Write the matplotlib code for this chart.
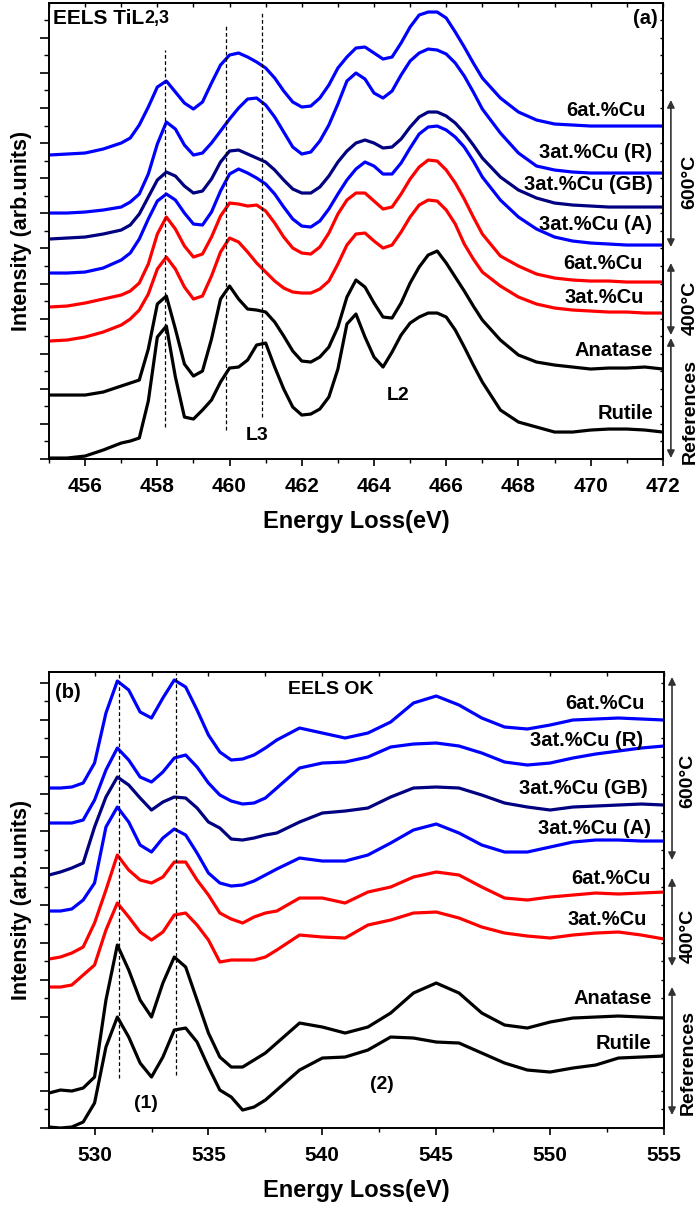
import matplotlib
matplotlib.use('Agg')
import matplotlib.pyplot as plt
from matplotlib.ticker import MultipleLocator, NullFormatter

plt.rcParams['font.family'] = ['Liberation Sans', 'DejaVu Sans']
plt.rcParams['font.weight'] = 'bold'
plt.rcParams['axes.labelweight'] = 'bold'

# ---------------- Ti L2,3 edge (panel a) ----------------
e_ti = [455, 455.5, 456, 456.5, 457,
        457.25, 457.5, 457.75, 458, 458.25, 458.5, 458.75, 459,
        459.25, 459.5, 459.75, 460, 460.25, 460.5, 460.75, 461,
        461.25, 461.5, 461.75, 462, 462.25, 462.5, 462.75, 463,
        463.25, 463.5, 463.75, 464, 464.25, 464.5, 464.75, 465,
        465.25, 465.5, 465.75, 466, 466.25, 466.5, 466.75, 467,
        467.5, 468, 468.5, 469, 469.5, 470, 470.5, 471, 471.5, 472]

ti_6cu_600 = [304, 305, 306, 310, 316,
              321, 334, 352, 372, 378, 367, 356, 350,
              357, 376, 394, 404, 406, 402, 397, 391,
              381, 368, 357, 352, 353, 361, 374, 391,
              402, 411, 412, 406, 400, 402, 416, 432,
              444, 447, 447, 441, 427, 412, 396, 381,
              361, 347, 339, 335, 334, 333, 333, 333, 333, 333]
ti_3cu_r = [246, 246, 247, 249, 252,
            257, 265, 285, 315, 337, 330, 314, 304,
            306, 316, 328, 340, 351, 360, 361, 354,
            342, 327, 312, 305, 307, 318, 334, 355,
            378, 386, 380, 366, 361, 368, 384, 398,
            406, 410, 409, 405, 396, 383, 367, 350,
            326, 306, 293, 289, 287, 286, 286, 286, 286, 286]
ti_3cu_gb = [220, 221, 222, 225, 229,
             234, 245, 262, 279, 287, 283, 273, 266,
             268, 280, 297, 308, 309, 305, 301, 297,
             289, 279, 270, 266, 266, 272, 283, 297,
             308, 316, 319, 316, 311, 312, 320, 332,
             342, 347, 347, 343, 336, 326, 314, 301,
             282, 269, 261, 256, 254, 253, 252, 252, 252, 252]
ti_3cu_a = [186, 186, 187, 191, 199,
            206, 220, 240, 258, 265, 259, 246, 235,
            234, 247, 268, 285, 290, 286, 281, 275,
            265, 252, 240, 233, 232, 238, 250, 265,
            279, 290, 297, 293, 285, 285, 296, 311,
            325, 332, 333, 329, 322, 312, 298, 282,
            259, 242, 230, 222, 218, 216, 215, 214, 214, 214]
ti_6cu_400 = [152, 153, 156, 160, 164,
              168, 176, 195, 225, 242, 230, 213, 202,
              205, 222, 243, 256, 255, 253, 254, 248,
              236, 222, 211, 206, 205, 212, 226, 245,
              259, 266, 266, 258, 250, 252, 265, 280,
              292, 299, 298, 289, 276, 260, 242, 225,
              203, 193, 185, 181, 179, 178, 178, 177, 177, 177]
ti_3cu_400 = [118, 119, 122, 127, 134,
              140, 149, 165, 190, 202, 190, 172, 160,
              163, 183, 207, 221, 217, 207, 196, 187,
              178, 171, 167, 166, 166, 170, 178, 195,
              214, 225, 226, 218, 211, 214, 227, 242,
              254, 259, 258, 249, 235, 215, 200, 187,
              173, 162, 155, 151, 149, 148, 147, 147, 146, 146]
ti_anatase = [64, 64, 64, 67, 73,
              76, 79, 110, 155, 163, 130, 95, 83,
              88, 120, 160, 173, 160, 150, 149, 147,
              137, 123, 108, 98, 97, 102, 112, 132,
              162, 179, 172, 156, 142, 141, 156, 176,
              192, 204, 208, 196, 182, 168, 153, 139,
              119, 104, 97, 94, 92, 90, 91, 91, 92, 90]
ti_rutile = [1, 1, 3, 9, 16,
             18, 21, 58, 122, 133, 82, 42, 40,
             49, 59, 77, 91, 92, 99, 114, 116,
             92, 70, 52, 44, 45, 50, 62, 90,
             135, 145, 122, 102, 92, 107, 124, 136,
             142, 146, 146, 142, 129, 112, 94, 77,
             49, 37, 32, 27, 27, 29, 30, 30, 29, 27]

ti_peaks = [458.2, 459.9, 460.9]
ti_peak_lo = [32, 29, 42]
ti_peak_hi = [409, 433, 446]

# ---------------- O K edge (panel b) ----------------
e_o = [528, 528.5, 529, 529.5, 530, 530.5, 531, 531.5, 532, 532.5,
       533, 533.5, 534, 534.5, 535, 535.5, 536, 536.5, 537, 537.5,
       538, 539, 540, 541, 542, 543, 544, 545, 546, 547,
       548, 549, 550, 551, 552, 553, 554, 555]

o_6cu_600 = [340, 340, 341, 345, 365, 415, 447, 438, 416, 410,
             430, 448, 441, 418, 393, 376, 368, 369, 373, 380,
             388, 400, 395, 390, 395, 406, 425, 432, 423, 410,
             401, 399, 403, 408, 409, 410, 409, 408]
o_3cu_r = [305, 305, 305, 308, 328, 358, 380, 368, 351, 346,
           356, 370, 373, 361, 345, 333, 327, 324, 325, 330,
           340, 360, 365, 366, 371, 381, 384, 385, 382, 375,
           366, 363, 365, 370, 374, 377, 380, 382]
o_3cu_gb = [253, 256, 260, 265, 301, 331, 351, 343, 330, 318,
            326, 331, 330, 320, 306, 300, 289, 288, 290, 293,
            295, 306, 315, 317, 320, 331, 340, 341, 340, 333,
            325, 321, 318, 321, 322, 323, 324, 323]
o_3cu_a = [217, 217, 219, 228, 245, 301, 321, 306, 283, 276,
           290, 299, 293, 275, 255, 245, 242, 243, 247, 253,
           259, 270, 267, 267, 273, 285, 298, 304, 295, 283,
           276, 276, 281, 286, 288, 288, 287, 287]
o_6cu_400 = [169, 171, 175, 181, 205, 238, 273, 258, 248, 245,
             251, 266, 266, 248, 233, 215, 209, 205, 211, 215,
             217, 230, 230, 225, 236, 241, 251, 256, 253, 241,
             230, 228, 231, 233, 235, 234, 235, 236]
o_3cu_400 = [141, 141, 143, 153, 163, 198, 225, 211, 196, 188,
             196, 213, 215, 203, 188, 166, 168, 168, 168, 171,
             178, 193, 191, 190, 203, 208, 215, 216, 210, 201,
             195, 192, 190, 193, 195, 196, 193, 189]
o_anatase = [35, 38, 37, 40, 51, 128, 183, 158, 128, 111,
             145, 171, 161, 128, 95, 71, 61, 61, 68, 75,
             85, 105, 101, 95, 101, 115, 135, 145, 135, 115,
             103, 100, 106, 110, 111, 112, 111, 110]
o_rutile = [1, 0, 1, 6, 25, 81, 111, 91, 65, 51,
            71, 98, 100, 86, 61, 38, 31, 18, 21, 28,
            38, 58, 70, 71, 78, 91, 90, 86, 85, 75,
            65, 58, 56, 60, 63, 70, 71, 72]

o_peaks = [531.07, 533.56]
o_peak_lo = [50, 53]
o_peak_hi = [455, 455]

BLUE = '#0000ff'
NAVY = '#000080'
RED = '#ff0000'
BLACK = '#000000'

ti_series = [(ti_6cu_600, BLUE), (ti_3cu_r, BLUE), (ti_3cu_gb, NAVY),
             (ti_3cu_a, BLUE), (ti_6cu_400, RED), (ti_3cu_400, RED),
             (ti_anatase, BLACK), (ti_rutile, BLACK)]
o_series = [(o_6cu_600, BLUE), (o_3cu_r, BLUE), (o_3cu_gb, NAVY),
            (o_3cu_a, BLUE), (o_6cu_400, RED), (o_3cu_400, RED),
            (o_anatase, BLACK), (o_rutile, BLACK)]

names = ['6at.%Cu', '3at.%Cu (R)', '3at.%Cu (GB)', '3at.%Cu (A)',
         '6at.%Cu', '3at.%Cu', 'Anatase', 'Rutile']
ti_label_x = [471.51, 471.70, 471.73, 471.70, 471.43, 471.46, 471.73, 471.73]
ti_label_y = [349, 307, 275, 235, 196, 162, 109, 46]
o_label_x = [554.16, 554.08, 554.30, 554.43, 554.39, 554.25, 554.47, 554.43]
o_label_y = [425, 388, 340, 300, 250, 209, 130, 85]

groups = ['600°C', '400°C', 'References']
ti_group_span = [(359, 212), (196, 124), (121, 1)]
ti_group_mid = [277, 151, 48]
o_group_span = [(451, 268), (250, 162), (141, 13)]
o_group_mid = [347, 192, 66]


def style_axes(ax, xmaj, xmin, ystep):
    ax.xaxis.set_major_locator(MultipleLocator(xmaj))
    ax.xaxis.set_minor_locator(MultipleLocator(xmin))
    ax.yaxis.set_major_locator(MultipleLocator(ystep))
    ax.yaxis.set_minor_locator(MultipleLocator(ystep / 2))
    ax.yaxis.set_major_formatter(NullFormatter())
    ax.tick_params(axis='x', which='major', direction='out', length=5,
                   width=1.2, labelsize=15, pad=8)
    ax.tick_params(axis='x', which='minor', direction='out', length=3, width=1.0)
    ax.tick_params(axis='y', which='major', direction='out', length=6.5, width=1.2)
    ax.tick_params(axis='y', which='minor', direction='out', length=3.6, width=1.0)
    for s in ax.spines.values():
        s.set_linewidth(1.4)
    top = ax.secondary_xaxis('top')
    top.xaxis.set_major_locator(MultipleLocator(xmaj))
    top.xaxis.set_minor_locator(MultipleLocator(xmin))
    top.tick_params(axis='x', which='both', direction='in', length=3,
                    width=1.0, labeltop=False)
    top.spines['top'].set_linewidth(1.4)
    right = ax.secondary_yaxis('right')
    right.yaxis.set_major_locator(MultipleLocator(ystep))
    right.yaxis.set_minor_locator(MultipleLocator(ystep / 2))
    right.tick_params(axis='y', which='both', direction='in', length=2.2,
                      width=1.0, labelright=False)
    right.spines['right'].set_linewidth(1.4)


def draw_panel(ax, energy, series, peaks, lo, hi, lab_x, lab_y, spans, mids, gx):
    for vals, col in series:
        ax.plot(energy, vals, color=col, lw=2.3, solid_joinstyle='round')
    ax.vlines(peaks, lo, hi, colors='black', linestyles=(0, (3, 2)), lw=0.9)
    for name, x, y in zip(names, lab_x, lab_y):
        ax.text(x, y, name, ha='right', va='center', fontsize=14.5)
    tr = ax.get_yaxis_transform()
    for g, (y0, y1), m in zip(groups, spans, mids):
        ax.annotate('', xy=(1.013, y1), xytext=(1.013, y0), xycoords=tr,
                    textcoords=tr, annotation_clip=False,
                    arrowprops=dict(arrowstyle='<|-|>', color='#333333', lw=1.2,
                                    mutation_scale=11, shrinkA=0, shrinkB=0))
        ax.text(gx, m, g, transform=tr, rotation=90, ha='center', va='center',
                fontsize=14, clip_on=False)
    ax.set_xlabel('Energy Loss(eV)', fontsize=17, labelpad=10)
    ax.set_ylabel('Intensity (arb.units)', fontsize=15.5, labelpad=2)


fig = plt.figure(figsize=(7, 12.08), dpi=100)
ax1 = fig.add_axes([0.07, 0.6200, 0.877, 0.3775])
ax2 = fig.add_axes([0.07, 0.0662, 0.8786, 0.3775])

ax1.set_xlim(455, 472)
ax1.set_ylim(0, 456)
style_axes(ax1, 2, 1, 35.1)
draw_panel(ax1, e_ti, ti_series, ti_peaks, ti_peak_lo, ti_peak_hi,
           ti_label_x, ti_label_y, ti_group_span, ti_group_mid, 1.044)
t = ax1.text(0.0065, 0.967, 'EELS TiL', transform=ax1.transAxes,
             fontsize=15, ha='left', va='center')
ax1.annotate('2,3', xy=(1, 0.05), xycoords=t, fontsize=13,
             ha='left', va='bottom')
ax1.text(0.992, 0.967, '(a)', transform=ax1.transAxes, fontsize=14.5,
         ha='right', va='center')
ax1.text(460.76, 24, 'L3', ha='center', va='center', fontsize=14)
ax1.text(464.67, 64, 'L2', ha='center', va='center', fontsize=14)

ax2.set_xlim(528, 555)
ax2.set_ylim(0, 456)
style_axes(ax2, 5, 2.5, 37.1)
draw_panel(ax2, e_o, o_series, o_peaks, o_peak_lo, o_peak_hi,
           o_label_x, o_label_y, o_group_span, o_group_mid, 1.039)
ax2.text(0.01, 0.956, '(b)', transform=ax2.transAxes, fontsize=14.5,
         ha='left', va='center')
ax2.text(538.49, 439, 'EELS OK', ha='left', va='center', fontsize=14)
ax2.text(532.26, 25, '(1)', ha='center', va='center', fontsize=14)
ax2.text(542.62, 44, '(2)', ha='center', va='center', fontsize=14)

fig.savefig('out.png', dpi=100)
